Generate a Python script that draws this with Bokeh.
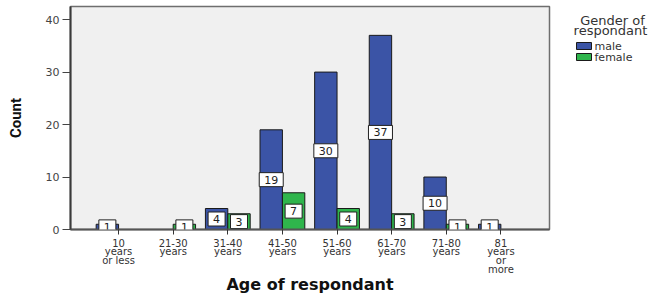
from bokeh.plotting import figure
from bokeh.models import Range1d, FixedTicker, Label
from bokeh.layouts import row
from bokeh.core.properties import value
from bokeh.embed import file_html
from bokeh.resources import INLINE

# ---- data ----
categories = ["10\nyears\nor less", "21-30\nyears", "31-40\nyears", "41-50\nyears",
              "51-60\nyears", "61-70\nyears", "71-80\nyears", "81\nyears\nor\nmore"]
male = [1, 0, 4, 19, 30, 37, 10, 1]
female = [0, 1, 3, 7, 4, 3, 1, 0]
y_ticks = [0, 10, 20, 30, 40]
series_names = ["male", "female"]
legend_title = ["Gender of", "respondant"]

MALE_C = "#3b54a6"
FEMALE_C = "#2fb54c"
FONT = "DejaVu Sans"
bw = 0.41

p = figure(width=552, height=296, output_backend="svg", toolbar_location=None,
           x_range=Range1d(-0.88, 7.89), y_range=Range1d(0, 42.5),
           min_border_left=70, min_border_right=3, min_border_top=6,
           min_border_bottom=67)
p.background_fill_color = "#f0f0f0"
p.border_fill_color = "white"
p.outline_line_color = "#6e6e6e"
p.outline_line_width = 1.5
p.grid.visible = False

idx = list(range(len(categories)))
mx = [i - bw / 2 for i, v in zip(idx, male) if v > 0]
mv = [v for v in male if v > 0]
fx = [i + bw / 2 for i, v in zip(idx, female) if v > 0]
fv = [v for v in female if v > 0]

p.vbar(x=mx, top=mv, bottom=0, width=bw, fill_color=MALE_C,
       line_color="#1a1a1a", line_width=1)
p.vbar(x=fx, top=fv, bottom=0, width=bw, fill_color=FEMALE_C,
       line_color="#1a1a1a", line_width=1)

# value labels
for xs, vs in ((mx, mv), (fx, fv)):
    for x, v in zip(xs, vs):
        p.add_layout(Label(x=x, y=v / 2, text=str(v), text_align="center",
                           text_baseline="middle", text_font=FONT,
                           text_font_size="11px", text_color="#222222",
                           background_fill_color="white",
                           border_line_color="#222222", border_line_width=1,
                           padding=dict(left=5, right=5, top=3, bottom=3)))

# x axis
xa = p.xaxis[0]
xa.ticker = FixedTicker(ticks=idx)
xa.major_label_overrides = {i: c for i, c in zip(idx, categories)}
xa.major_label_text_font = FONT
xa.major_label_text_font_size = "10px"
xa.major_label_text_line_height = 0.8
xa.major_label_text_color = "#333333"
xa.major_label_standoff = 3
xa.major_tick_out = 5
xa.major_tick_in = 0
xa.minor_tick_line_color = None
xa.axis_line_color = "#555555"
xa.axis_line_width = 2
xa.major_tick_line_color = "#333333"
xa.axis_label = "Age of respondant"
xa.axis_label_text_font = FONT
xa.axis_label_text_font_style = "bold"
xa.axis_label_text_font_size = "16px"
xa.axis_label_text_color = "#111111"
xa.axis_label_standoff = -3

# y axis
ya = p.yaxis[0]
ya.ticker = FixedTicker(ticks=y_ticks)
ya.major_label_text_font = FONT
ya.major_label_text_font_size = "11px"
ya.major_label_text_color = "#444444"
ya.major_label_standoff = 3
ya.major_tick_out = 8
ya.major_tick_in = 0
ya.minor_tick_line_color = None
ya.axis_line_color = "#3a3a3a"
ya.axis_line_width = 2
ya.major_tick_line_color = "#444444"
ya.axis_label = "Count"
ya.axis_label_text_font = "Roboto"
ya.axis_label_text_font_style = "bold"
ya.axis_label_text_font_size = "15px"
ya.axis_label_text_color = "#111111"
ya.axis_label_standoff = 18

# ---- legend panel; its frame is aligned with the main frame (rows 6..229),
# so its ranges are set to the page's pixel coordinates ----
p2 = figure(width=113, height=296, output_backend="svg",
            toolbar_location=None, title=None,
            x_range=Range1d(552, 665), y_range=Range1d(229, 6),
            x_axis_location=None, y_axis_location=None, min_border=0)
p2.outline_line_color = None
p2.grid.visible = False
p2.background_fill_color = "white"
p2.border_fill_color = "white"

p2.text(x=[612, 610], y=[19.5, 30], text=legend_title, text_align="center",
        text_baseline="middle", text_font=value(FONT), text_font_size="13px",
        text_color="#333333")
p2.quad(left=[576, 576], right=[591, 591], top=[42, 53], bottom=[49, 60],
        fill_color=[MALE_C, FEMALE_C], line_color="#1a1a1a", line_width=1)
p2.text(x=[594, 594], y=[45.5, 56.5], text=series_names, text_align="left",
        text_baseline="middle", text_font=value(FONT), text_font_size="11px",
        text_color="#333333")

layout = row(p, p2)
open("out.html", "w").write(file_html(layout, INLINE))
